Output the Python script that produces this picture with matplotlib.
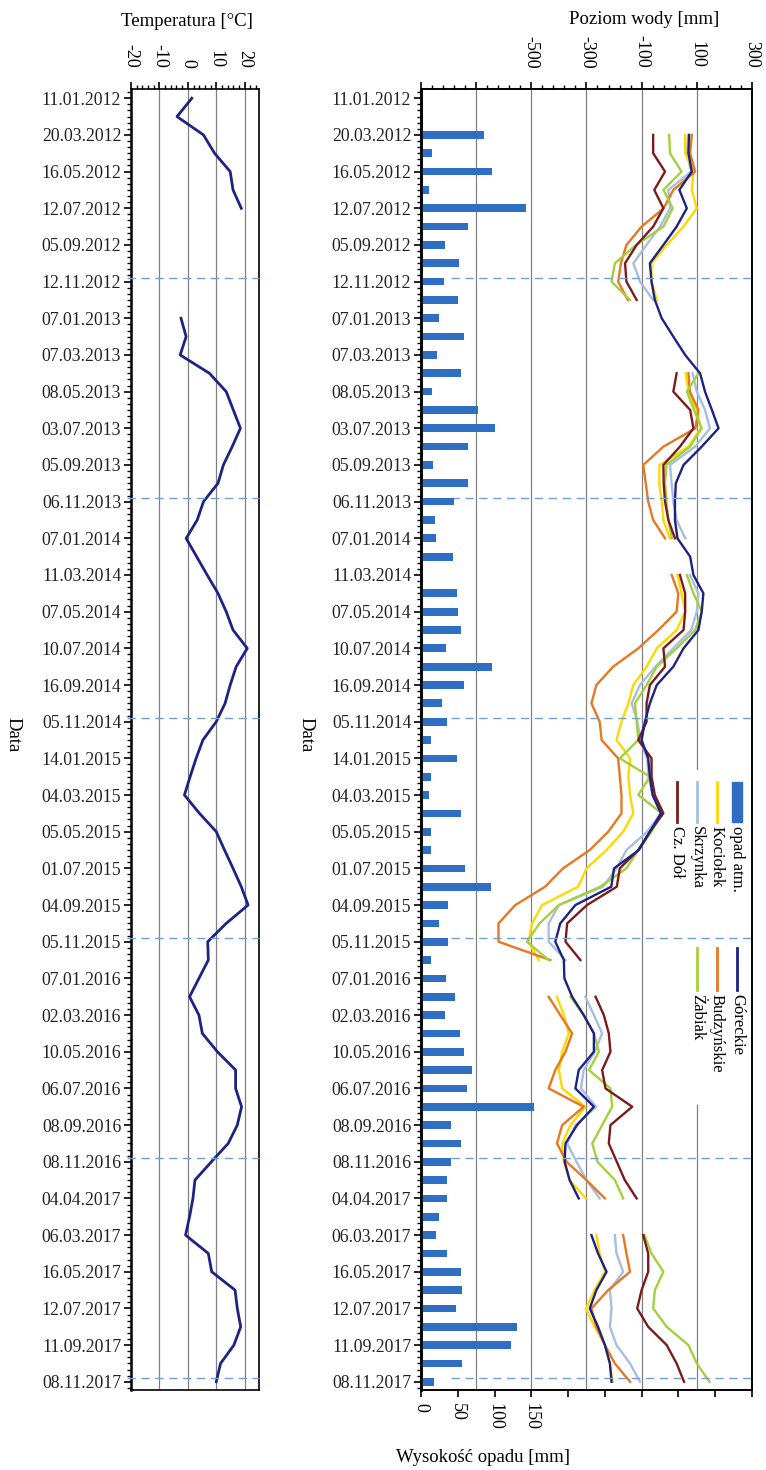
import numpy as np
import matplotlib.pyplot as plt
from matplotlib.ticker import MultipleLocator, FixedLocator, FuncFormatter
from matplotlib.lines import Line2D
from matplotlib.patches import Rectangle

plt.rcParams['font.family'] = ['Liberation Serif', 'DejaVu Serif']
plt.rcParams['axes.unicode_minus'] = False

N = None

# date labels (every second monthly measurement)
dates = ['11.01.2012', '20.03.2012', '16.05.2012', '12.07.2012', '05.09.2012', '12.11.2012',
         '07.01.2013', '07.03.2013', '08.05.2013', '03.07.2013', '05.09.2013', '06.11.2013',
         '07.01.2014', '11.03.2014', '07.05.2014', '10.07.2014', '16.09.2014', '05.11.2014',
         '14.01.2015', '04.03.2015', '05.05.2015', '01.07.2015', '04.09.2015', '05.11.2015',
         '07.01.2016', '02.03.2016', '10.05.2016', '06.07.2016', '08.09.2016', '08.11.2016',
         '04.04.2017', '06.03.2017', '16.05.2017', '12.07.2017', '11.09.2017', '08.11.2017']

# hydrological year boundaries (dashed lines), in measurement index
year_breaks = [9.8, 21.8, 33.8, 45.8, 57.8, 69.8]

temperature = [1.4, -3.8, 5.5, 9.4, 14.9, 15.9, 18.8,
               N, N, N, N, N,
               -2.4, -0.6, -2.7, 7.6, 13.5, 16.0, 18.5, 15.6, 12.5, 10.6,
               5.5, 3.3, -0.6, 3.1, 6.8, 10.6, 13.5, 15.9, 20.9, 17.0,
               14.9, 13.1, 10.0, 5.3, 2.9, 0.8, -1.2, 4.1, 10.0, 12.9,
               15.9, 18.8, 21.2, 13.5, 7.0, 7.2, 3.9, 0.6, 3.9, 5.1,
               10.4, 16.8, 16.8, 18.9, 17.4, 14.2, 8.3, 2.5, 1.8, 0.6,
               -0.8, 7.2, 8.4, 16.6, 17.4, 18.6, 16.2, 11.5, 10.0]

precip = [N, N, 86, 15, 96, 11, 143, 64, 33, 52, 31, 50, 25, 59, 22, 54, 15, 78, 101, 64,
          16, 64, 45, 19, 21, 44, 3, 49, 50, 54, 34, 96, 58, 28, 36, 14, 49, 14, 11, 54,
          14, 14, 60, 95, 37, 24, 37, 14, 34, 46, 33, 53, 58, 69, 63, 154, 41, 54, 41, 35,
          35, 24, 20, 36, 55, 56, 48, 131, 123, 56, 18]

gorecki = [N, N,
           72, 70, 82, 37, 64, 27, -21, -70, -64, -52,
           -27, 15, 58,
           112, 130, 155, 179, 118, 52, 24, 21, 21, 30,
           76,
           88, 124, 118, 106, 52, 15, -45, -70, -88, -100, -76, -70, -60, -30, -70, -110,
           -200, -210, -340, -395, -413, -382,
           -380,
           -352, -310, -273, -273, -328, -340, -273, -334, -376, -379, -361, -328,
           N,
           -282, -258, -227, -264, -288, -258, -233, -215, -209]

kociolek = [N, N,
            58, 58, 88, 82, 100, 52, -9, -64, -64, -45,
            N, N, N,
            60, 70, 100, 115, 70, -35, -36, -27, -21, 3,
            N,
            30, 45, 58, 27, -45, -82, -130, -148, -173, -191, -142, -148, -142, -130, -167,
            -227, -300, -330, -461, -497, -510, -473,
            N,
            -407, -382, -364, -388, -400, -388, -304, -358, -388, -382, -361, -302,
            N,
            -264, -252, -233, -270, -302, -270, -233, -215, -205]

budzynskie = [N, N,
              82, 76, 94, 15, -20, -100, -155, -175, -185, -150,
              N, N, N,
              70, 75, 106, 95, -21, -94, -85, -76, -58, -15,
              N,
              9, 33, 27, -39, -112, -203, -264, -282, -252, -245, -185, -179, -173, -173, -221,
              -288, -385, -450, -558, -619, -619, -431,
              N,
              -437, -395, -352, -376, -413, -437, -310, -388, -407, -372, -300, -233,
              N,
              -167, -155, -142, -221, -282, -264, -233, -197, -142]

skrzynka = [N, N,
            70, 64, 80, -3, 3, -33, -82, -130, -106, -58,
            N, N, N,
            85, 100, 130, 148, 94, 3, 9, 15, 27, 58,
            N,
            75, 106, 100, 80, 15, -50, -106, -136, -115, -105, -80, -75, -60, -30, -80,
            -155, -191, -240, -400, -437, -437, -376,
            N,
            -304, -273, -243, -270, -310, -320, -265, -340, -370, -336, -300, -252,
            N,
            -197, -191, -167, -215, -209, -215, -191, -142, -106]

zabiak = [N, N,
          0, 3, 45, -21, 13, -21, -120, -197, -209, -142,
          N, N, N,
          106, 64, 90, 118, 76, -10, -15, -10, -3, 10,
          N,
          64, 88, 118, 94, 27, -45, -82, -124, -118, -112, -179, -70, -112, -27, -64,
          -112, -155, -250, -400, -470, -516, -437,
          N,
          -358, -310, -273, -255, -291, -213, -207, -243, -279, -260, -197, -167,
          N,
          -90, -64, -21, -52, -58, -9, 70, 100, 146]

czdol = [N, N,
         -58, -58, -15, -54, -21, -58, -118, -160, -155, -118,
         N, N, N,
         27, 15, 76, 88, 39, -21, -20, -15, -3, 21,
         N,
         39, 58, 58, 52, -21, -15, -70, -82, -82, -112, -64, -64, -52, -21, -70,
         -112, -179, -190, -298, -370, -376, -322,
         N,
         -267, -237, -219, -213, -243, -231, -134, -213, -219, -190, -161, -118,
         N,
         -94, -76, -76, -100, -116, -76, -9, 27, 54]


def arr(v):
    return np.array([np.nan if x is None else x for x in v], dtype=float)


months = np.arange(len(temperature))

c_bar = '#2E6FC4'
c_gor = '#1E2382'
c_koc = '#FFD800'
c_bud = '#E87722'
c_skr = '#A8BEE0'
c_zab = '#A4D03C'
c_czd = '#7B1C1C'
c_dash = '#6FA0D8'
grid_c = '#808080'

fig = plt.figure(figsize=(7.66, 14.70), dpi=100)
axT = fig.add_axes([0.171, 0.0544, 0.167, 0.885])
axW = fig.add_axes([0.5496, 0.0544, 0.432, 0.885])
# precipitation shares the date axis, drawn on the bottom axis
ax2 = axW.twiny()

for ax in (axT, axW):
    ax.set_ylim(70.45, -0.5)
    ax.set_yticks(months[::2])
    ax.set_yticklabels(dates, fontsize=12.8, color='#222222')
    ax.yaxis.set_minor_locator(MultipleLocator(1 / 3))
    ax.tick_params(axis='y', which='major', length=5, width=1.2, direction='out', pad=2)
    ax.tick_params(axis='y', which='minor', length=3, width=1.0, direction='out')
    ax.set_axisbelow(True)
    for s in ax.spines.values():
        s.set_linewidth(1.2)
    ax.spines['left'].set_linewidth(1.8)

# temperature panel
axT.plot(arr(temperature), months, color=c_gor, lw=2.0)
axT.set_xlim(-20, 25)
axT.xaxis.set_major_locator(FixedLocator([-20, -10, 0, 10, 20]))
axT.xaxis.set_minor_locator(MultipleLocator(2))
axT.grid(axis='x', which='major', color=grid_c, lw=0.9)
axT.tick_params(axis='x', which='both', top=True, bottom=False, labeltop=True,
                labelbottom=False, direction='out', labelsize=13, labelrotation=-90)
axT.tick_params(axis='x', which='major', length=5, width=1.2, pad=10)
axT.tick_params(axis='x', which='minor', length=3, width=1.0)
for y in year_breaks:
    axT.axhline(y, xmin=-0.03, xmax=1.0, color=c_dash, lw=1.0, dashes=(6, 4),
                zorder=3, clip_on=False)

# water level panel
axW.set_xlim(-900, 300)
axW.xaxis.set_major_locator(FixedLocator(np.arange(-900, 301, 200)))
axW.xaxis.set_minor_locator(FixedLocator(np.arange(-900, 301, 40)))
axW.xaxis.set_major_formatter(FuncFormatter(lambda v, p: '' if v < -600 else '%d' % v))
axW.xaxis.set_ticks_position('top')
axW.grid(axis='x', which='major', color=grid_c, lw=0.9)
axW.tick_params(axis='x', which='both', top=True, bottom=False, labeltop=True,
                labelbottom=False, direction='out', labelsize=13, labelrotation=-90)
axW.tick_params(axis='x', which='major', length=5, width=1.2, pad=10)
axW.tick_params(axis='x', which='minor', length=3, width=1.0)

# white legend area hides the grid
axW.add_patch(Rectangle((0.746, 0.219), 0.254, 0.2575, transform=axW.transAxes,
                        facecolor='white', edgecolor='none', zorder=1))

series = [(skrzynka, c_skr), (kociolek, c_koc), (budzynskie, c_bud),
          (zabiak, c_zab), (czdol, c_czd), (gorecki, c_gor)]
for vals, col in series:
    axW.plot(arr(vals), months, color=col, lw=1.7, zorder=2)

for y in year_breaks:
    axW.axhline(y, xmin=0.09, xmax=1.0, color=c_dash, lw=1.0, dashes=(6, 4), zorder=3)

ax2.set_xlim(0, 450)
ax2.xaxis.set_ticks_position('bottom')
ax2.xaxis.set_label_position('bottom')
ax2.xaxis.set_major_locator(MultipleLocator(50))
ax2.xaxis.set_major_formatter(FuncFormatter(lambda v, p: '%d' % v if v <= 150 else ''))
ax2.tick_params(axis='x', which='major', top=False, bottom=True, labeltop=False,
                labelbottom=True, length=5, width=1.2, direction='out',
                labelsize=13, labelrotation=-90, pad=4)
p = arr(precip)
ok = ~np.isnan(p)
ax2.barh(months[ok], p[ok], height=0.42, color=c_bar, zorder=2)
for s in ax2.spines.values():
    s.set_linewidth(1.2)
ax2.spines['left'].set_linewidth(1.8)


def fx(px):
    return px / 766


def fy(py):
    return 1 - py / 1470


# axis titles
fig.text(fx(187), fy(21), 'Temperatura [°C]', ha='center', va='center', fontsize=13.5)
fig.text(fx(644), fy(19), 'Poziom wody [mm]', ha='center', va='center', fontsize=13.5)
fig.text(fx(483), fy(1458), 'Wysokość opadu [mm]', ha='center', va='center', fontsize=13.5)
fig.text(fx(13), fy(735), 'Data', rotation=-90, ha='center', va='center', fontsize=13.5)
fig.text(fx(306), fy(735), 'Data', rotation=-90, ha='center', va='center', fontsize=13.5)

# legend, rotated like the rest of the page
col1 = [('opad atm.', c_bar, 737), ('Kociołek', c_koc, 717),
        ('Skrzynka', c_skr, 697), ('Cz. Dół', c_czd, 677)]
col2 = [('Góreckie', c_gor, 737), ('Budzyńskie', c_bud, 717), ('Żabiak', c_zab, 697)]

for name, col, x in col1:
    if name == 'opad atm.':
        fig.add_artist(Rectangle((fx(x - 5), fy(822)), 10 / 766, 40 / 1470,
                                 transform=fig.transFigure, color=col))
    else:
        fig.add_artist(Line2D([fx(x), fx(x)], [fy(782), fy(822)],
                              transform=fig.transFigure, color=col, lw=2))
    fig.text(fx(x), fy(826), name, rotation=-90, ha='center', va='top', fontsize=12)

for name, col, x in col2:
    fig.add_artist(Line2D([fx(x), fx(x)], [fy(948), fy(990)],
                          transform=fig.transFigure, color=col, lw=2))
    fig.text(fx(x), fy(994), name, rotation=-90, ha='center', va='top', fontsize=12)

fig.savefig('out.png', dpi=100, facecolor='white')
